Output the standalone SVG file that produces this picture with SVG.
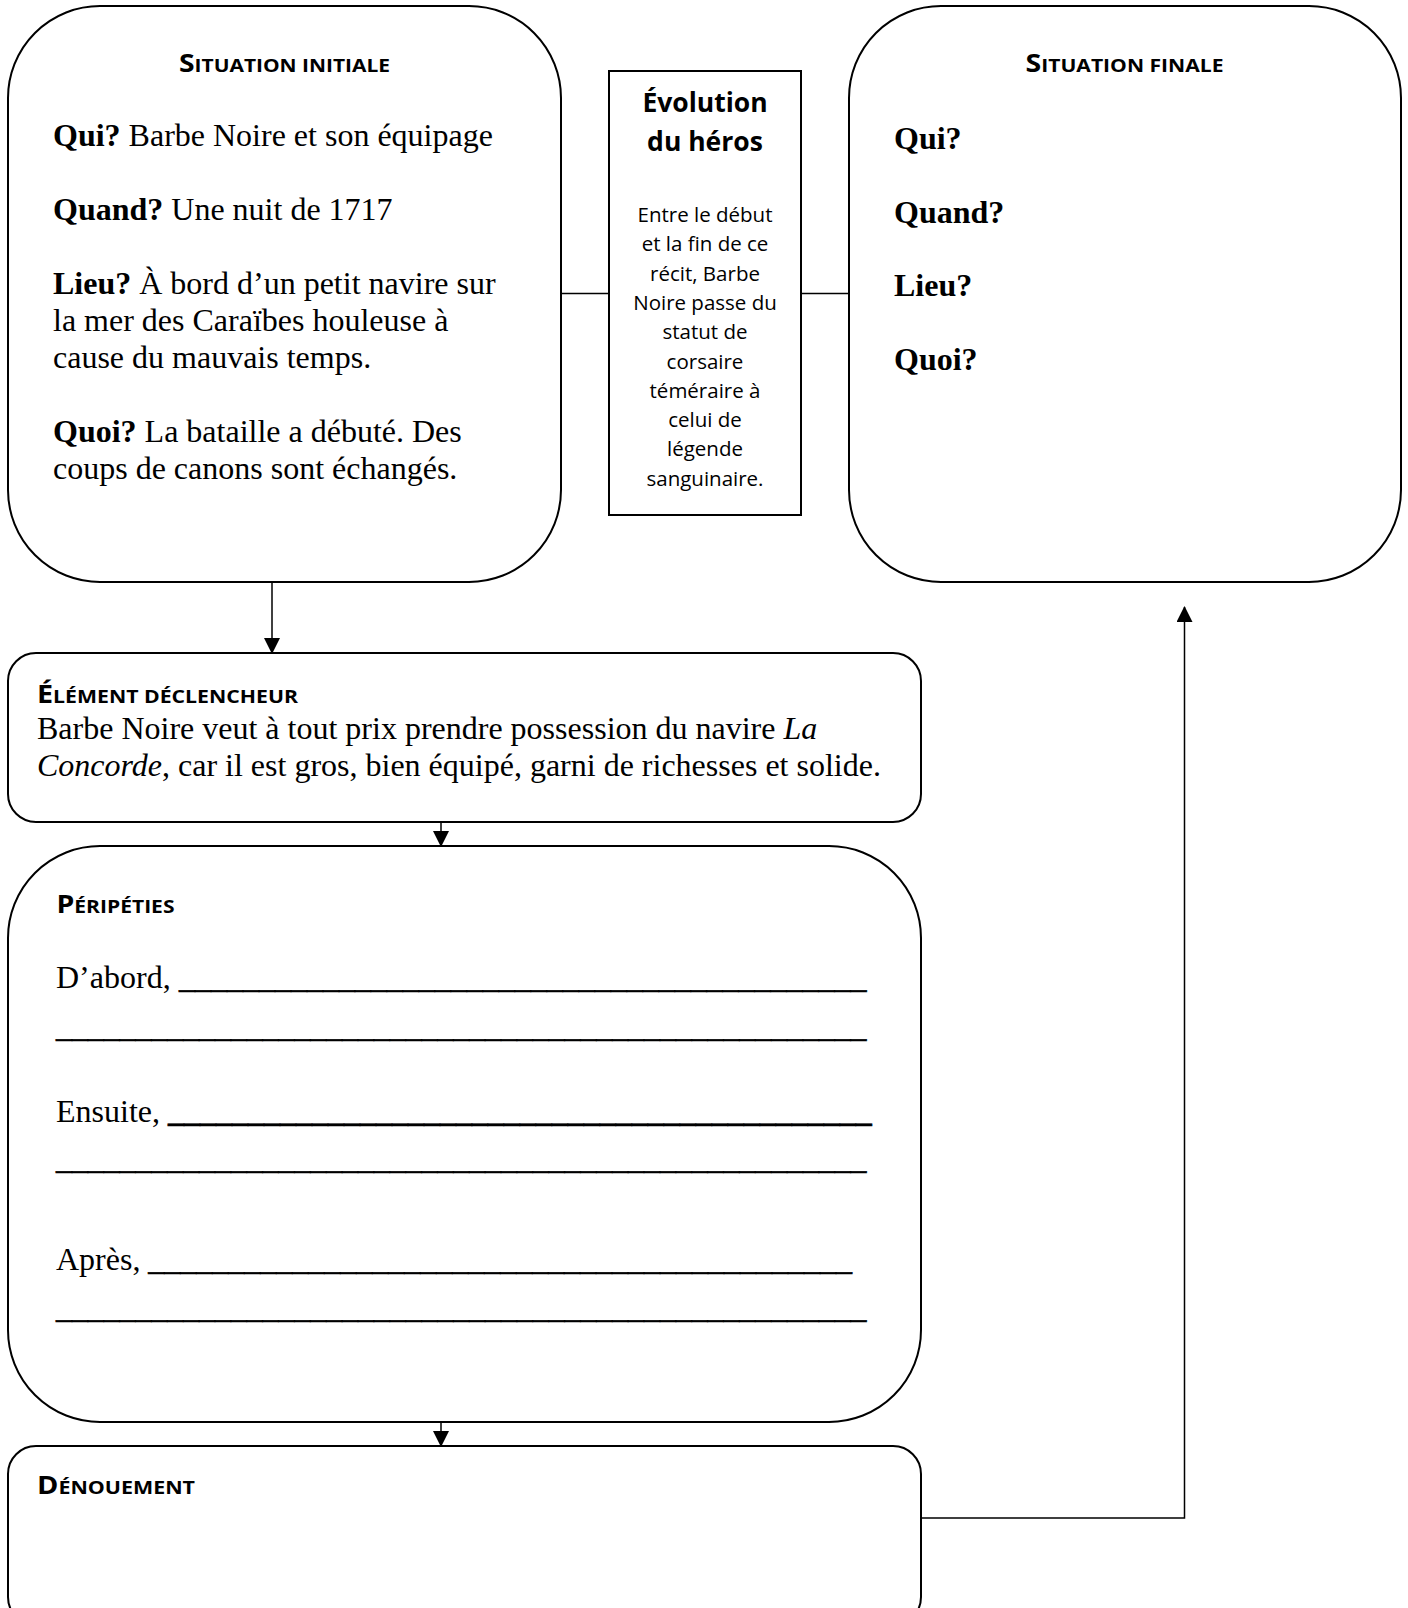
<svg xmlns="http://www.w3.org/2000/svg" width="1408" height="1608" viewBox="0 0 1408 1608">
<style>
.box{fill:#fff;stroke:#000;stroke-width:2}
.con{fill:none;stroke:#000;stroke-width:1.5}
.hd{font-family:"Open Sans","Noto Sans",sans-serif;font-weight:700;fill:#000}
.big{font-size:25px}
.sm{font-size:18.5px}
.tr{font-family:"Liberation Serif","Times New Roman",serif;font-size:32px;fill:#000}
.b{font-weight:700}
.i{font-style:italic}
.ul{stroke:#000;stroke-width:0.6}
.evt{font-family:"Open Sans","Noto Sans",sans-serif;font-weight:700;font-size:26.5px;fill:#000;text-anchor:middle}
.evb{font-family:"Open Sans","Noto Sans",sans-serif;font-size:20.5px;fill:#000;text-anchor:middle}
</style>
<defs>
<marker id="ah" markerUnits="userSpaceOnUse" markerWidth="17" markerHeight="17" refX="15" refY="8" orient="auto">
<path d="M0,0 L16,8 L0,16 z" fill="#000"/>
</marker>
</defs>
<rect width="1408" height="1608" fill="#fff"/>

<g id="connectors">
<line class="con" x1="561" y1="293.5" x2="609" y2="293.5"/>
<line class="con" x1="801" y1="293.5" x2="849" y2="293.5"/>
<line class="con" x1="272" y1="582" x2="272" y2="653" marker-end="url(#ah)"/>
<line class="con" x1="441" y1="822" x2="441" y2="846" marker-end="url(#ah)"/>
<line class="con" x1="441" y1="1422" x2="441" y2="1446" marker-end="url(#ah)"/>
<polyline class="con" points="921,1518 1184.5,1518 1184.5,607" marker-end="url(#ah)"/>
</g>

<g id="situation-initiale">
<rect class="box" x="8" y="6" width="553" height="576" rx="92" ry="92"/>
<text class="hd" x="179" y="72" textLength="211" lengthAdjust="spacingAndGlyphs"><tspan class="big">S</tspan><tspan class="sm">ITUATION INITIALE</tspan></text>
<text class="tr" x="53" y="146"><tspan class="b">Qui?</tspan> Barbe Noire et son équipage</text>
<text class="tr" x="53" y="220"><tspan class="b">Quand?</tspan> Une nuit de 1717</text>
<text class="tr" x="53" y="294"><tspan class="b">Lieu?</tspan> À bord d’un petit navire sur</text>
<text class="tr" x="53" y="331">la mer des Caraïbes houleuse à</text>
<text class="tr" x="53" y="368">cause du mauvais temps.</text>
<text class="tr" x="53" y="442"><tspan class="b">Quoi?</tspan> La bataille a débuté. Des</text>
<text class="tr" x="53" y="479">coups de canons sont échangés.</text>
</g>

<g id="evolution-heros">
<rect x="609" y="71" width="192" height="444" fill="#fff" stroke="#000" stroke-width="2"/>
<text class="evt" x="705" y="112">Évolution</text>
<text class="evt" x="705" y="150.5">du héros</text>
<text class="evb" x="705" y="222">Entre le début</text>
<text class="evb" x="705" y="251.3">et la fin de ce</text>
<text class="evb" x="705" y="280.6">récit, Barbe</text>
<text class="evb" x="705" y="309.9">Noire passe du</text>
<text class="evb" x="705" y="339.2">statut de</text>
<text class="evb" x="705" y="368.5">corsaire</text>
<text class="evb" x="705" y="397.8">téméraire à</text>
<text class="evb" x="705" y="427.1">celui de</text>
<text class="evb" x="705" y="456.4">légende</text>
<text class="evb" x="705" y="485.7">sanguinaire.</text>
</g>

<g id="situation-finale">
<rect class="box" x="849" y="6" width="552" height="576" rx="92" ry="92"/>
<text class="hd" x="1025.5" y="72" textLength="198" lengthAdjust="spacingAndGlyphs"><tspan class="big">S</tspan><tspan class="sm">ITUATION FINALE</tspan></text>
<text class="tr b" x="894" y="149">Qui?</text>
<text class="tr b" x="894" y="222.5">Quand?</text>
<text class="tr b" x="894" y="296">Lieu?</text>
<text class="tr b" x="894" y="369.5">Quoi?</text>
</g>

<g id="element-declencheur">
<rect class="box" x="8" y="653" width="913" height="169" rx="28" ry="28"/>
<text class="hd" x="37" y="702.5" textLength="261" lengthAdjust="spacingAndGlyphs"><tspan class="big">É</tspan><tspan class="sm">LÉMENT DÉCLENCHEUR</tspan></text>
<text class="tr" x="37" y="739">Barbe Noire veut à tout prix prendre possession du navire <tspan class="i">La</tspan></text>
<text class="tr" x="37" y="776"><tspan class="i">Concorde</tspan>, car il est gros, bien équipé, garni de richesses et solide.</text>
</g>

<g id="peripeties">
<rect class="box" x="8" y="846" width="913" height="576" rx="92" ry="92"/>
<text class="hd" x="56.5" y="913" textLength="118" lengthAdjust="spacingAndGlyphs"><tspan class="big">P</tspan><tspan class="sm">ÉRIPÉTIES</tspan></text>
<text class="tr" x="56" y="988">D’abord,</text>
<text class="tr ul" x="179" y="988" textLength="687.5" lengthAdjust="spacingAndGlyphs">___________________________________________</text>
<text class="tr ul" x="56" y="1036.5" textLength="810.5" lengthAdjust="spacingAndGlyphs">___________________________________________________</text>
<text class="tr" x="56" y="1121.5">Ensuite,</text>
<text class="tr b ul" x="168" y="1121.5" textLength="703.7" lengthAdjust="spacingAndGlyphs">____________________________________________</text>
<text class="tr ul" x="56" y="1169" textLength="810.5" lengthAdjust="spacingAndGlyphs">___________________________________________________</text>
<text class="tr" x="56" y="1270">Après,</text>
<text class="tr ul" x="148.3" y="1270" textLength="703.7" lengthAdjust="spacingAndGlyphs">____________________________________________</text>
<text class="tr ul" x="56" y="1318" textLength="810.5" lengthAdjust="spacingAndGlyphs">___________________________________________________</text>
</g>

<g id="denouement">
<rect class="box" x="8" y="1446" width="913" height="179" rx="28" ry="28"/>
<text class="hd" x="37" y="1494" textLength="158" lengthAdjust="spacingAndGlyphs"><tspan class="big">D</tspan><tspan class="sm">ÉNOUEMENT</tspan></text>
</g>
</svg>
